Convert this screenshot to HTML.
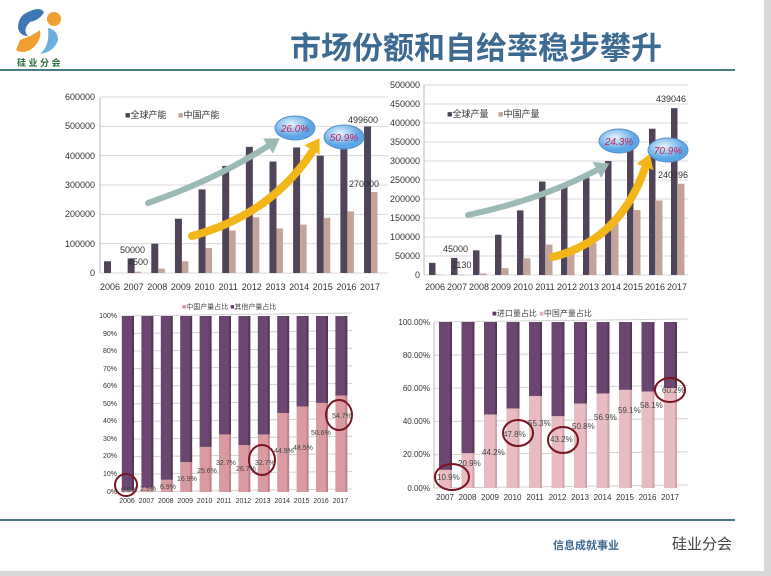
<!DOCTYPE html>
<html><head><meta charset="utf-8"><style>
html,body{margin:0;padding:0;background:#fff;}
svg{display:block;font-family:"Liberation Sans","Noto Sans CJK SC",sans-serif;}
</style></head><body>
<svg id="s" width="771" height="576" viewBox="0 0 771 576" xmlns="http://www.w3.org/2000/svg">
<rect width="771" height="576" fill="#fff"/>
<rect x="764" y="0" width="7" height="576" fill="#d8d8d8"/>
<rect x="0" y="571" width="771" height="5" fill="#d8d8d8"/>
<!-- logo -->
<path d="M28 12 Q40 6 44 12 Q40 20 30 22 Q22 30 28 36 Q20 36 18 28 Q18 16 28 12Z" fill="#3d78b5"/>
<path d="M20 40 Q32 36 40 30 Q42 42 30 50 Q22 54 16 50 Z" fill="#f0a030"/>
<circle cx="54" cy="19" r="7" fill="#f0a030"/>
<path d="M48 28 Q58 30 58 40 Q54 52 40 54 Q50 46 48 28Z" fill="#6ab0dc"/>
<text x="17" y="66" font-size="9" fill="#2a6a3a" font-weight="bold">硅 业 分 会</text>
<text x="290" y="59" font-size="31" fill="#3c6a90" font-weight="bold">市场份额和自给率稳步攀升</text>
<rect x="0" y="69" width="735" height="2" fill="#4b7c86"/>
<rect x="0" y="519" width="735" height="2" fill="#4b7c86"/>
<text x="553" y="549" font-size="11" fill="#3c6a90" font-weight="bold">信息成就事业</text>
<text x="672" y="549" font-size="15" fill="#444">硅业分会</text>
<g id="g"></g>
<!-- chart1 text -->
<g font-size="9" fill="#333" text-anchor="end">
<text x="95" y="100">600000</text><text x="95" y="129">500000</text><text x="95" y="159">400000</text><text x="95" y="188">300000</text><text x="95" y="217">200000</text><text x="95" y="247">100000</text><text x="95" y="276">0</text>
</g>
<g font-size="9" fill="#333" text-anchor="middle">
<text x="110" y="290">2006</text><text x="133.6" y="290">2007</text><text x="157.3" y="290">2008</text><text x="180.9" y="290">2009</text><text x="204.5" y="290">2010</text><text x="228.2" y="290">2011</text><text x="251.8" y="290">2012</text><text x="275.5" y="290">2013</text><text x="299.1" y="290">2014</text><text x="322.7" y="290">2015</text><text x="346.4" y="290">2016</text><text x="370" y="290">2017</text>
</g>
<g font-size="9" fill="#333">
<text x="125" y="118"><tspan fill="#4a3f55">■</tspan>全球产能</text>
<text x="178" y="118"><tspan fill="#c4a49a">■</tspan>中国产能</text>
<text x="120" y="253">50000</text><text x="128" y="265">4500</text>
<text x="348" y="123">499600</text><text x="349" y="187">270000</text>
</g>
<!-- chart2 text -->
<g font-size="9" fill="#333" text-anchor="end">
<text x="420" y="88">500000</text><text x="420" y="107">450000</text><text x="420" y="126">400000</text><text x="420" y="145">350000</text><text x="420" y="164">300000</text><text x="420" y="183">250000</text><text x="420" y="202">200000</text><text x="420" y="221">150000</text><text x="420" y="240">100000</text><text x="420" y="259">50000</text><text x="420" y="278">0</text>
</g>
<g font-size="9" fill="#333" text-anchor="middle">
<text x="435" y="290">2006</text><text x="457" y="290">2007</text><text x="479" y="290">2008</text><text x="501" y="290">2009</text><text x="523" y="290">2010</text><text x="545" y="290">2011</text><text x="567" y="290">2012</text><text x="589" y="290">2013</text><text x="611" y="290">2014</text><text x="633" y="290">2015</text><text x="655" y="290">2016</text><text x="677" y="290">2017</text>
</g>
<g font-size="9" fill="#333">
<text x="447" y="117"><tspan fill="#4a3f55">■</tspan>全球产量</text>
<text x="498" y="117"><tspan fill="#c4a49a">■</tspan>中国产量</text>
<text x="443" y="252">45000</text><text x="452" y="268">1130</text>
<text x="656" y="102">439046</text><text x="658" y="178">240396</text>
</g>
<!-- chart3 text -->
<g font-size="7" fill="#333" text-anchor="end">
<text x="117" y="318">100%</text><text x="117" y="336">90%</text><text x="117" y="353">80%</text><text x="117" y="371">70%</text><text x="117" y="388">60%</text><text x="117" y="406">50%</text><text x="117" y="423">40%</text><text x="117" y="441">30%</text><text x="117" y="458">20%</text><text x="117" y="476">10%</text><text x="117" y="494">0%</text>
</g>
<g font-size="7" fill="#333" text-anchor="middle">
<text x="127" y="503">2006</text><text x="146.4" y="503">2007</text><text x="165.8" y="503">2008</text><text x="185.2" y="503">2009</text><text x="204.6" y="503">2010</text><text x="224" y="503">2011</text><text x="243.4" y="503">2012</text><text x="262.8" y="503">2013</text><text x="282.2" y="503">2014</text><text x="301.6" y="503">2015</text><text x="321" y="503">2016</text><text x="340.4" y="503">2017</text>
</g>
<g font-size="7" fill="#444">
<text x="182" y="309"><tspan fill="#d9909a">■</tspan>中国产量占比  <tspan fill="#5a3a60">■</tspan>其他产量占比</text>
<text x="121" y="492">0.8%</text><text x="140" y="491">2.5%</text><text x="160" y="489">6.9%</text><text x="177" y="481">16.9%</text><text x="197" y="473">25.6%</text><text x="216" y="465">32.7%</text><text x="236" y="471">26.7%</text><text x="255" y="465">32.7%</text><text x="274" y="453">44.9%</text><text x="293" y="450">48.5%</text><text x="311" y="435">50.6%</text><text x="332" y="418">54.7%</text>
</g>
<!-- chart4 text -->
<g font-size="8" fill="#333" text-anchor="end">
<text x="430" y="325">100.00%</text><text x="430" y="358">80.00%</text><text x="430" y="391">60.00%</text><text x="430" y="424">40.00%</text><text x="430" y="457">20.00%</text><text x="430" y="491">0.00%</text>
</g>
<g font-size="8" fill="#333" text-anchor="middle">
<text x="445" y="500">2007</text><text x="467.5" y="500">2008</text><text x="490" y="500">2009</text><text x="512.5" y="500">2010</text><text x="535" y="500">2011</text><text x="557.5" y="500">2012</text><text x="580" y="500">2013</text><text x="602.5" y="500">2014</text><text x="625" y="500">2015</text><text x="647.5" y="500">2016</text><text x="670" y="500">2017</text>
</g>
<g font-size="8" fill="#444">
<text x="492" y="316"><tspan fill="#5a3a60">■</tspan>进口量占比  <tspan fill="#e3b5bb">■</tspan>中国产量占比</text>
<text x="437" y="480">10.9%</text><text x="458" y="466">20.9%</text>
<text x="482" y="455">44.2%</text><text x="503" y="437">47.8%</text><text x="528" y="426">55.3%</text><text x="550" y="442">43.2%</text><text x="572" y="429">50.8%</text><text x="594" y="420">56.9%</text><text x="618" y="413">59.1%</text><text x="640" y="408">58.1%</text><text x="662" y="393">60.2%</text>
</g>
</svg>
<script>
const g=document.getElementById('g');let h='';
function R(x,y,w,hh,f){h+=`<rect x="${x}" y="${y}" width="${w}" height="${hh}" fill="${f}"/>`;}
function L(x1,y1,x2,y2,c){h+=`<line x1="${x1}" y1="${y1}" x2="${x2}" y2="${y2}" stroke="${c}" stroke-width="1"/>`;}
for(let i=0;i<=6;i++){let y=273-i*176/6;L(100,y,388,y,'#d9d9d9');}
L(100,97,100,273,'#bbb');
const a1=[40000,50000,100000,185000,285000,365000,430000,380000,428000,400000,430000,499600];
const b1=[0,4500,15000,40000,85000,145000,190000,152000,165000,188000,210000,276000];
a1.forEach((v,i)=>{let c=110+i*23.64;let hh=v/600000*176;R(c-6,273-hh,7,hh,'#4f4458');let h2=b1[i]/600000*176;R(c+1,273-h2,6.5,h2,'#c4a49a');});
for(let i=0;i<=10;i++){let y=275-i*19;L(424,y,688,y,'#d9d9d9');}
L(424,85,424,275,'#bbb');
const a2=[32000,45000,65000,106000,170000,246000,236000,256000,300000,330000,385000,439046];
const b2=[1000,1130,4000,18000,44000,80000,58000,84000,136000,171000,196000,240396];
a2.forEach((v,i)=>{let c=435+i*22;let hh=v/500000*190;R(c-6,275-hh,6.5,hh,'#4f4458');let h2=b2[i]/500000*190;R(c+1,275-h2,6.5,h2,'#c4a49a');});
function arrow(d,c,w,hx,hy,ang){h+=`<path d="${d}" fill="none" stroke="${c}" stroke-width="${w}" stroke-linecap="round"/>`;
h+=`<polygon points="0,-9 14,0 0,9" fill="${c}" transform="translate(${hx},${hy}) rotate(${ang})"/>`;}
arrow('M148 203 Q215 180 268 146','#9bbab5',6,268,146,-33);
arrow('M192 236 Q270 215 312 152','#f2b619',8,312,150,-58);
arrow('M468 215 Q540 200 597 170','#9bbab5',6,597,170,-28);
arrow('M553 257 Q620 240 645 168','#f2b619',8,645,167,-70);
function bub(x,y,t){h+=`<defs><radialGradient id="bg${x}" cx="40%" cy="35%"><stop offset="0" stop-color="#e8f6ff"/><stop offset="1" stop-color="#5aa6e6"/></radialGradient></defs><ellipse cx="${x}" cy="${y}" rx="20" ry="12" fill="url(#bg${x})" stroke="#5a90c8"/><text x="${x}" y="${y+4}" font-size="10" fill="#c0205a" text-anchor="middle" font-style="italic">${t}</text>`;}
bub(295,128,'26.0%');bub(344,137,'50.9%');bub(619,141,'24.3%');bub(668,150,'70.9%');
for(let i=0;i<=10;i++){let y=492-i*17.6;L(122,y+0,352,y-3,'#d0d0d0');}
L(122,316,122,492,'#bbb');
const p3=[0.8,2.5,6.9,16.9,25.6,32.7,26.7,32.7,44.9,48.5,50.6,54.7];
p3.forEach((v,i)=>{let c=127+i*19.4;let hh=v/100*176;R(c-5,316,11,176-hh,'#6b4670');R(c-5,492-hh,11,hh,'#d99aa2');R(c+5,316,2,176-hh,'#553658');R(c+5,492-hh,2,hh,'#c08088');});
for(let i=0;i<=5;i++){let y=488-i*33.2;L(434,y,688,y-3,'#d0d0d0');}
L(434,322,434,488,'#bbb');
const p4=[10.9,20.9,44.2,47.8,55.3,43.2,50.8,56.9,59.1,58.1,60.2];
p4.forEach((v,i)=>{let c=445+i*22.5;let hh=v/100*166;R(c-6,322,11,166-hh,'#6b4670');R(c-6,488-hh,11,hh,'#e8bcc2');R(c+5,322,2,166-hh,'#553658');R(c+5,488-hh,2,hh,'#d0a4aa');});
function circ(x,y,rx,ry){h+=`<ellipse cx="${x}" cy="${y}" rx="${rx}" ry="${ry}" fill="none" stroke="#7a1420" stroke-width="2"/>`;}
circ(126,485,11,11);circ(262,460,13,15);circ(339,415,13,15);
circ(452,477,17,13);circ(518,433,15,13);circ(563,440,15,13);circ(670,390,15,12);
g.innerHTML=h;
</script>
</body></html>
